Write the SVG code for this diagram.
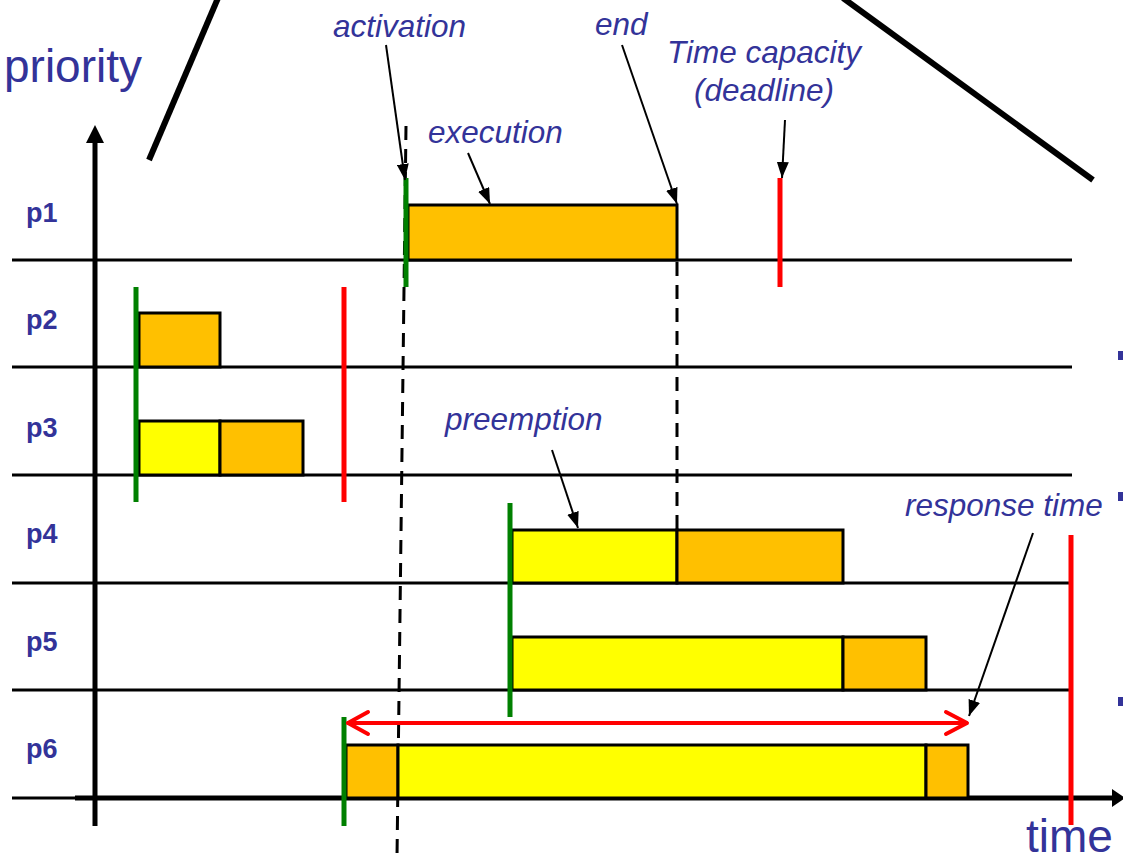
<svg xmlns="http://www.w3.org/2000/svg" width="1123" height="862" viewBox="0 0 1123 862">
  <style>
    .lbl { font-family: "Liberation Sans", Arial, sans-serif; fill: #333399; }
    .row { font-size: 27px; font-weight: bold; }
    .note { font-size: 31.5px; font-style: italic; }
    .axisname { font-size: 46px; }
    .grid { stroke: #000; stroke-width: 3; fill: none; }
    .exec { fill: #FFC000; stroke: #000; stroke-width: 3; }
    .wait { fill: #FFFF00; stroke: #000; stroke-width: 3; }
    .act { stroke: #008000; stroke-width: 5; }
    .dl { stroke: #FF0000; stroke-width: 5; }
    .ptr { stroke: #000; stroke-width: 2; fill: none; marker-end: url(#tri); }
    .dash { stroke: #000; stroke-width: 3; stroke-dasharray: 14 9; fill: none; }
    .slash { stroke: #000; stroke-width: 6; }
  </style>
  <defs>
    <marker id="tri" viewBox="0 0 16 12" refX="16" refY="6" markerWidth="16" markerHeight="12" markerUnits="userSpaceOnUse" orient="auto">
      <path d="M0,0 L16,6 L0,12 z" fill="#000"/>
    </marker>
  </defs>

  <rect width="1123" height="862" fill="#fff"/>

  <!-- decorative slashes -->
  <line class="slash" x1="149" y1="160" x2="218" y2="-2"/>
  <line class="slash" x1="843" y1="-2" x2="1093" y2="180"/>

  <!-- bullet edges -->
  <g fill="#333399">
    <rect x="1118" y="351" width="5" height="9"/>
    <rect x="1118" y="492" width="5" height="9"/>
    <rect x="1118" y="697" width="5" height="9"/>
  </g>

  <!-- axes and row separators -->
  <g id="axes">
    <line class="grid" x1="12" y1="260" x2="1072" y2="260"/>
    <line class="grid" x1="12" y1="367" x2="1072" y2="367"/>
    <line class="grid" x1="12" y1="475" x2="1072" y2="475"/>
    <line class="grid" x1="12" y1="583" x2="1072" y2="583"/>
    <line class="grid" x1="12" y1="690" x2="1072" y2="690"/>
    <line x1="12" y1="798" x2="80" y2="798" stroke="#000" stroke-width="3"/>
    <line x1="75" y1="798" x2="1114" y2="798" stroke="#000" stroke-width="5"/>
    <path d="M1125,798 L1112,789 L1112,807 z" fill="#000"/>
    <line x1="95" y1="826" x2="95" y2="140" stroke="#000" stroke-width="5"/>
    <path d="M95,125 L86,143 L104,143 z" fill="#000"/>
    <text class="lbl axisname" x="4" y="82">priority</text>
    <text class="lbl axisname" x="1026" y="852">time</text>
  </g>

  <!-- dashed guides -->
  <g id="guides">
    <line class="dash" x1="406" y1="126" x2="397" y2="858"/>
    <line class="dash" x1="677" y1="262" x2="677" y2="530"/>
  </g>

  <g id="p1">
    <text class="lbl row" x="26" y="222">p1</text>
    <rect class="exec" x="408" y="205" width="269" height="55"/>
    <line class="act" x1="406" y1="178" x2="406" y2="287"/>
    <line class="dl" x1="780" y1="178" x2="780" y2="287"/>
  </g>

  <g id="p2">
    <text class="lbl row" x="26" y="329">p2</text>
    <rect class="exec" x="139" y="313" width="81" height="54"/>
  </g>

  <g id="p3">
    <text class="lbl row" x="26" y="437">p3</text>
    <rect class="wait" x="139" y="421" width="81" height="54"/>
    <rect class="exec" x="220" y="421" width="83" height="54"/>
  </g>

  <g id="p2p3-marks">
    <line class="act" x1="136" y1="287" x2="136" y2="502"/>
    <line class="dl" x1="344" y1="287" x2="344" y2="502"/>
  </g>

  <g id="p4">
    <text class="lbl row" x="26" y="543">p4</text>
    <rect class="wait" x="512" y="530" width="165" height="53"/>
    <rect class="exec" x="677" y="530" width="166" height="53"/>
  </g>

  <g id="p5">
    <text class="lbl row" x="26" y="651">p5</text>
    <rect class="wait" x="512" y="637" width="331" height="53"/>
    <rect class="exec" x="843" y="637" width="83" height="53"/>
  </g>

  <g id="p4p5-marks">
    <line class="act" x1="510" y1="503" x2="510" y2="717"/>
    <line class="dl" x1="1071" y1="535" x2="1071" y2="825"/>
  </g>

  <g id="p6">
    <text class="lbl row" x="26" y="758">p6</text>
    <rect class="exec" x="346" y="745" width="52" height="53"/>
    <rect class="wait" x="398" y="745" width="528" height="53"/>
    <rect class="exec" x="926" y="745" width="42" height="53"/>
    <line class="act" x1="344" y1="717" x2="344" y2="826"/>
  </g>

  <!-- response time span -->
  <g id="response-span" stroke="#FF0000" stroke-width="4" stroke-linecap="round" stroke-linejoin="round" fill="none">
    <line x1="348" y1="723" x2="966" y2="723"/>
    <polyline points="368,712 348,723 368,734"/>
    <polyline points="946,712 967,723 946,734"/>
  </g>

  <!-- annotations -->
  <g id="annotations">
    <text class="lbl note" x="333" y="37">activation</text>
    <text class="lbl note" x="595" y="35">end</text>
    <text class="lbl note" x="764" y="63" text-anchor="middle">Time capacity</text>
    <text class="lbl note" x="764" y="101" text-anchor="middle">(deadline)</text>
    <text class="lbl note" x="428" y="143">execution</text>
    <text class="lbl note" x="445" y="430">preemption</text>
    <text class="lbl note" x="905" y="516">response time</text>
  </g>

  <g id="connectors">
    <line class="ptr" x1="386" y1="45" x2="405" y2="180"/>
    <line class="ptr" x1="468" y1="153" x2="490" y2="204"/>
    <line class="ptr" x1="622" y1="45" x2="677" y2="204"/>
    <line class="ptr" x1="785" y1="120" x2="782" y2="178"/>
    <line class="ptr" x1="552" y1="450" x2="578" y2="528"/>
    <line class="ptr" x1="1033" y1="533" x2="969" y2="716"/>
  </g>
</svg>
